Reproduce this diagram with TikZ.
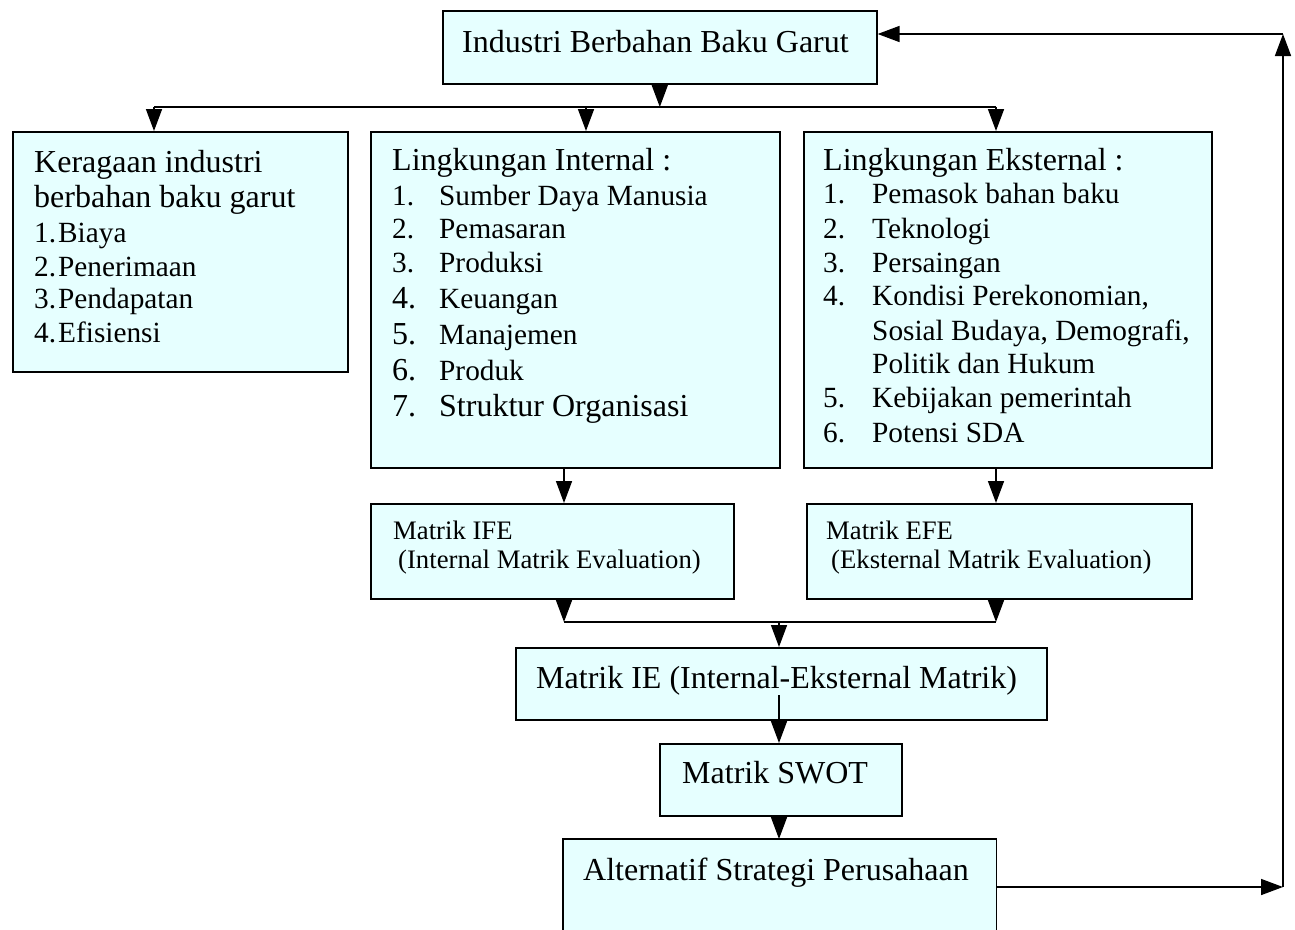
\documentclass[tikz,border=0pt]{standalone}
\usepackage{fontspec}
\setmainfont{Liberation Serif}
\usetikzlibrary{arrows.meta}
\definecolor{boxfill}{RGB}{230,255,255}
\tikzset{
 box/.style={draw=black, line width=1.6pt, fill=boxfill, anchor=north west, inner sep=0pt},
 lbl/.style={anchor=base west, inner sep=0pt, text=black},
 big/.style={font=\fontsize{32}{38}\selectfont},
 mid/.style={font=\fontsize{29.3}{34}\selectfont},
 sml/.style={font=\fontsize{26.7}{31}\selectfont},
 conn/.style={line width=1.6pt},
 arr/.style={conn, -{Triangle[length=22pt,width=16pt]}},
}
\begin{document}
\begin{tikzpicture}[x=1pt,y=-1pt]
\fill[white] (0,0) rectangle (1295,929);
\useasboundingbox (0,0) rectangle (1295,929);

% boxes
\node[box, minimum width=434pt, minimum height=73pt] (top) at (442,10) {};
\node[box, minimum width=335pt, minimum height=240pt] (kera) at (12,131) {};
\node[box, minimum width=409pt, minimum height=336pt] (int) at (370,131) {};
\node[box, minimum width=408pt, minimum height=336pt] (ext) at (803,131) {};
\node[box, minimum width=363pt, minimum height=95pt] (ife) at (370,503) {};
\node[box, minimum width=385pt, minimum height=95pt] (efe) at (806,503) {};
\node[box, minimum width=531pt, minimum height=72pt] (ie) at (515,647) {};
\node[box, minimum width=242pt, minimum height=72pt] (swot) at (659,743) {};
\node[box, draw=none, minimum width=432pt, minimum height=100pt] (alt) at (563,839) {};
\draw[conn] (alt.south west) -- (alt.north west) -- (alt.north east) -- (alt.south east);

% texts
\node[lbl,big] (ttop) at (462,52) {Industri Berbahan Baku Garut};

\node[lbl,big] (k0) at (34,172) {Keragaan industri};
\node[lbl,big] (k1) at (34,207) {berbahan baku garut};
\node[lbl,mid] (k2) at (34,242) {\makebox[24pt][l]{1.}Biaya};
\node[lbl,mid] (k3) at (34,276) {\makebox[24pt][l]{2.}Penerimaan};
\node[lbl,mid] (k4) at (34,308) {\makebox[24pt][l]{3.}Pendapatan};
\node[lbl,mid] (k5) at (34,342) {\makebox[24pt][l]{4.}Efisiensi};

\node[lbl,big] (i0) at (392,170) {Lingkungan Internal :};
\node[lbl,mid] (i1) at (392,205) {\makebox[47pt][l]{1.}Sumber Daya Manusia};
\node[lbl,mid] (i2) at (392,238) {\makebox[47pt][l]{2.}Pemasaran};
\node[lbl,mid] (i3) at (392,272) {\makebox[47pt][l]{3.}Produksi};
\node[lbl,mid] (i4) at (392,308) {\makebox[47pt][l]{\fontsize{32}{38}\selectfont 4.}Keuangan};
\node[lbl,mid] (i5) at (392,344) {\makebox[47pt][l]{\fontsize{32}{38}\selectfont 5.}Manajemen};
\node[lbl,mid] (i6) at (392,380) {\makebox[47pt][l]{\fontsize{32}{38}\selectfont 6.}Produk};
\node[lbl,big] (i7) at (392,416) {\makebox[47pt][l]{7.}Struktur Organisasi};

\node[lbl,big] (e0) at (823,170) {Lingkungan Eksternal :};
\node[lbl,mid] (e1) at (823,203) {\makebox[49pt][l]{1.}Pemasok bahan baku};
\node[lbl,mid] (e2) at (823,238) {\makebox[49pt][l]{2.}Teknologi};
\node[lbl,mid] (e3) at (823,272) {\makebox[49pt][l]{3.}Persaingan};
\node[lbl,mid] (e4) at (823,305) {\makebox[49pt][l]{4.}Kondisi Perekonomian,};
\node[lbl,mid] (e4b) at (872,340) {Sosial Budaya, Demografi,};
\node[lbl,mid] (e4c) at (872,373) {Politik dan Hukum};
\node[lbl,mid] (e5) at (823,407) {\makebox[49pt][l]{5.}Kebijakan pemerintah};
\node[lbl,mid] (e6) at (823,442) {\makebox[49pt][l]{6.}Potensi SDA};

\node[lbl,sml] (f1) at (393,539) {Matrik IFE};
\node[lbl,sml] (f2) at (398,568) {(Internal Matrik Evaluation)};
\node[lbl,sml] (g1) at (826,539) {Matrik EFE};
\node[lbl,sml] (g2) at (831,568) {(Eksternal Matrik Evaluation)};

\node[lbl,big] (tie) at (536,688) {Matrik IE (Internal-Eksternal Matrik)};
\node[lbl,big] (tsw) at (682,783) {Matrik SWOT};
\node[lbl,big] (tal) at (583,880) {Alternatif Strategi Perusahaan};

% connectors
\coordinate (b1L) at (154,107);
\coordinate (b1M) at (586,107);
\coordinate (b1R) at (996,107);
\draw[arr] (top.south) -- (top.south |- b1L);
\draw[conn] (b1L) -- (b1R);
\draw[arr] (b1L) -- (b1L |- kera.north);
\draw[arr] (b1M) -- (b1M |- int.north);
\draw[arr] (b1R) -- (b1R |- ext.north);

\coordinate (b2L) at (564,622);
\coordinate (b2M) at (779,622);
\coordinate (b2R) at (996,622);
\draw[arr] (int.south -| b2L) -- (ife.north -| b2L);
\draw[arr] (ext.south -| b2R) -- (efe.north -| b2R);
\draw[arr] (ife.south -| b2L) -- (b2L);
\draw[arr] (efe.south -| b2R) -- (b2R);
\draw[conn] (b2L) -- (b2R);
\draw[arr] (b2M) -- (b2M |- ie.north);

\coordinate (ieIn) at (779,695);
\draw[arr] (ieIn) -- (ieIn |- swot.north);
\draw[arr] (swot.south -| ieIn) -- (alt.north -| ieIn);

\coordinate (rb) at (1283,887);
\coordinate (rt) at (1283,34);
\draw[arr] (alt.east |- rb) -- (rb);
\draw[arr] (rb) -- (rt);
\draw[arr] (rt) -- (top.east |- rt);
\end{tikzpicture}
\end{document}
